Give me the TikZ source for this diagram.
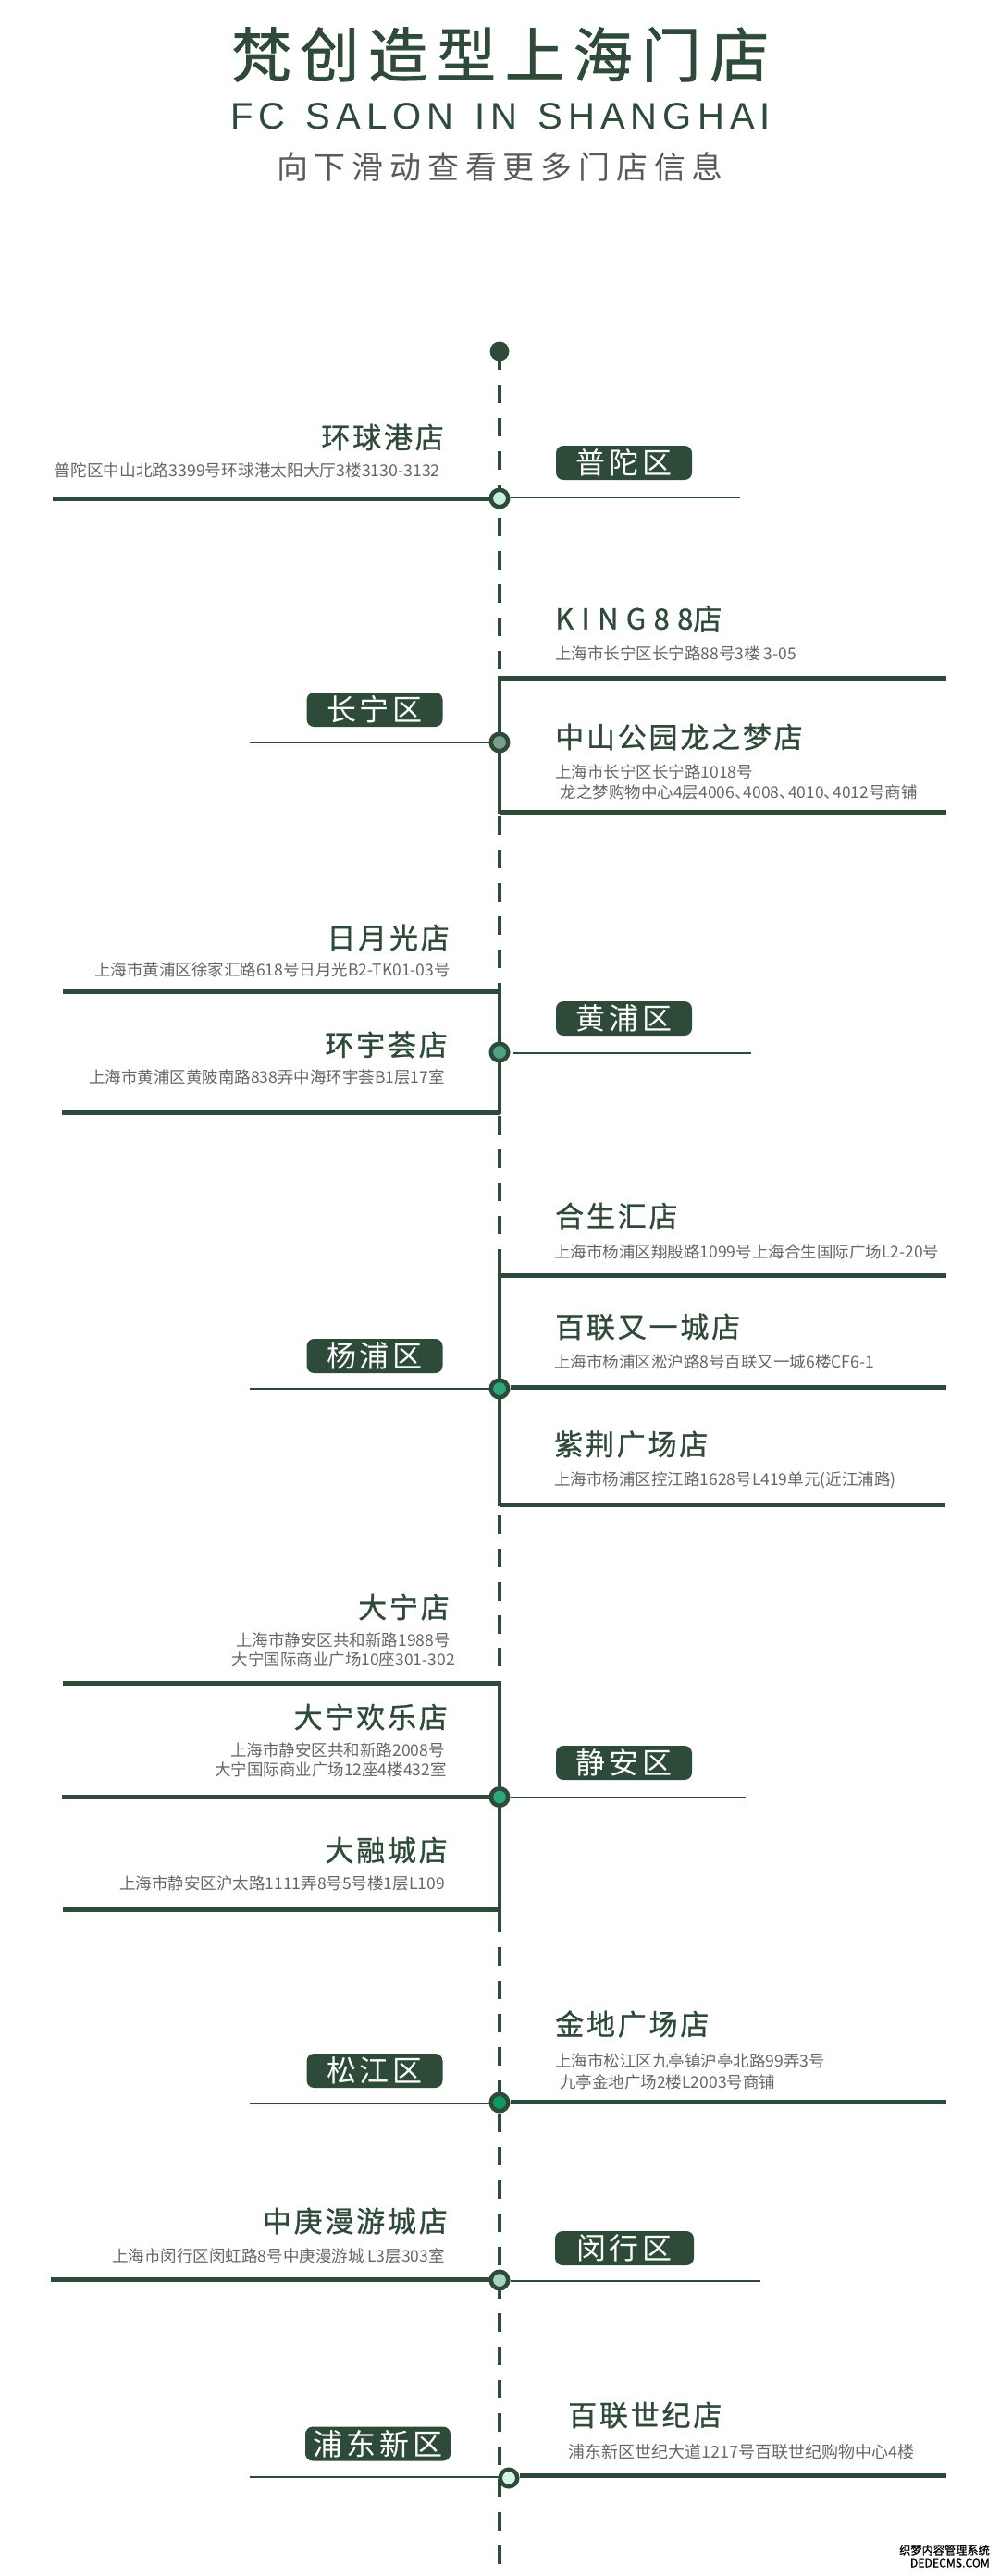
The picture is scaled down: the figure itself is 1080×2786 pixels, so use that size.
\documentclass[tikz,border=0pt]{standalone}
\usepackage{fontspec}
\usepackage{xcolor}
\newfontfamily\titlecjk[LetterSpace=15.4,FakeBold=1.2]{Noto Sans CJK SC}
\newfontfamily\titlelatin[LetterSpace=15.2,WordSpace=1.3]{Liberation Sans}
\newfontfamily\subtitlecjk[LetterSpace=20]{Noto Sans CJK SC}
\newfontfamily\shopcjk[LetterSpace=9,FakeBold=0.9]{Noto Sans CJK SC}
\newfontfamily\shopwide[LetterSpace=27,FakeBold=0.9]{Noto Sans CJK SC}
\newfontfamily\tagcjk[LetterSpace=12]{Noto Sans CJK SC}
\newfontfamily\addrcjk{Noto Sans CJK SC}
\newfontfamily\markcjk[FakeBold=1]{Noto Sans CJK SC}
\definecolor{salongreen}{HTML}{2E4A39}
\definecolor{addrgrey}{HTML}{666666}
\definecolor{subgrey}{HTML}{5A5A5A}
\newcommand{\shortcomma}{、\kern-8pt}
\tikzset{
    main-title/.style = {inner sep=0pt, text=salongreen, font=\titlecjk\fontsize{64}{64}\selectfont},
    latin-title/.style = {inner sep=0pt, text=salongreen, font=\titlelatin\fontsize{40}{40}\selectfont},
    sub-title/.style = {inner sep=0pt, text=subgrey, font=\subtitlecjk\fontsize{34}{34}\selectfont},
    shop-name/.style = {inner sep=0pt, text=salongreen, font=\shopcjk\fontsize{31}{31}\selectfont},
    shop-addr/.style = {inner sep=0pt, text=addrgrey, font=\addrcjk\fontsize{17.5}{17.5}\selectfont},
    shop-addr-mid/.style = {inner sep=0pt, text=addrgrey, font=\addrcjk\fontsize{17.7}{17.7}\selectfont},
    shop-addr-wide/.style = {inner sep=0pt, text=addrgrey, font=\addrcjk\fontsize{18}{18}\selectfont},
    area-tag/.style = {fill=salongreen, text=white, rectangle, rounded corners=8pt, inner sep=0pt, minimum width=147pt, minimum height=37pt, font=\tagcjk\fontsize{32}{32}\selectfont},
    area-dot/.style = {draw=salongreen, circle, line width=4.5pt, inner sep=0pt, minimum size=18.5pt},
    top-dot/.style = {fill=salongreen, circle, inner sep=0pt, minimum size=21pt},
    spine-dash/.style = {draw=salongreen, line width=4pt, dash pattern=on 20pt off 15.96pt},
    spine-solid/.style = {draw=salongreen, line width=4.6pt},
    thick-rule/.style = {draw=salongreen, line width=5pt},
    thin-rule/.style = {draw=salongreen, line width=2.5pt},
    mark-text/.style = {inner sep=0pt, text=black, font=\markcjk\fontsize{12.2}{12.2}\selectfont},
}
\begin{document}
\begin{tikzpicture}[x=1pt, y=-1pt]
\useasboundingbox (0,0) rectangle (1080,2786);

\node[main-title] (title) at (541,59) {梵创造型上海门店};
\node[latin-title] (title-en) at (541,126) {FC SALON IN SHANGHAI};
\node[sub-title] (title-sub) at (540.5,180) {向下滑动查看更多门店信息};

\node[top-dot] (spine-top) at (540,380) {};
\coordinate (spine-end) at (540,2773);
\draw[spine-dash] (spine-top.center) -- (spine-end);

\coordinate (changning-a) at (540,731);
\coordinate (changning-b) at (540,880);
\coordinate (huangpu-a) at (540,1063);
\coordinate (huangpu-b) at (540,1205);
\coordinate (yangpu-a) at (540,1351);
\coordinate (yangpu-b) at (540,1629);
\coordinate (jingan-a) at (540,1818);
\coordinate (jingan-b) at (540,2090);
\draw[spine-solid] (changning-a) -- (changning-b);
\draw[spine-solid] (huangpu-a) -- (huangpu-b);
\draw[spine-solid] (yangpu-a) -- (yangpu-b);
\draw[spine-solid] (jingan-a) -- (jingan-b);

\node[area-dot, fill={rgb,255:red,197;green,240;blue,224}] (putuo-dot) at (540,539) {};
\node[area-tag] (putuo-tag) at (674.5,500.5) {普陀区};
\node[shop-name, anchor=east] (huanqiu-name) at (480,473) {环球港店};
\node[shop-addr-mid, anchor=east] (huanqiu-addr) at (476,509) {普陀区中山北路3399号环球港太阳大厅3楼3130-3132};
\coordinate (huanqiu-end) at (57,539);
\coordinate (putuo-end) at (800,538);
\draw[thick-rule] (huanqiu-end) -- (huanqiu-end -| putuo-dot.west);
\draw[thin-rule] (putuo-dot.east |- putuo-end) -- (putuo-end);

\node[area-dot, fill={rgb,255:red,122;green,158;blue,140}] (changning-dot) at (540,803) {};
\node[area-tag] (changning-tag) at (405,767.5) {长宁区};
\node[shop-name, anchor=west] (king-name) at (600,669) {{\shopwide KING88}店};
\node[shop-addr, anchor=west] (king-addr) at (600,707) {上海市长宁区长宁路88号3楼 3-05};
\node[shop-name, anchor=west] (longzhimeng-name) at (600,797) {中山公园龙之梦店};
\node[shop-addr, anchor=west] (longzhimeng-addr) at (600,835) {上海市长宁区长宁路1018号};
\node[shop-addr, anchor=west] (longzhimeng-more) at (605.5,857) {龙之梦购物中心4层4006\shortcomma 4008\shortcomma 4010\shortcomma 4012号商铺};
\coordinate (changning-end) at (270,803);
\coordinate (king-end) at (1023,733);
\coordinate (longzhimeng-end) at (1023,878);
\draw[thin-rule] (changning-end) -- (changning-dot.west);
\draw[thick-rule] (changning-a |- king-end) -- (king-end);
\draw[thick-rule] (changning-a |- longzhimeng-end) -- (longzhimeng-end);

\node[area-dot, fill={rgb,255:red,79;green,163;blue,128}] (huangpu-dot) at (540,1138) {};
\node[area-tag] (huangpu-tag) at (674.5,1101.5) {黄浦区};
\node[shop-name, anchor=east] (riyueguang-name) at (486,1014) {日月光店};
\node[shop-addr, anchor=east] (riyueguang-addr) at (487,1049) {上海市黄浦区徐家汇路618号日月光B2-TK01-03号};
\node[shop-name, anchor=east] (huanyu-name) at (484,1130) {环宇荟店};
\node[shop-addr, anchor=east] (huanyu-addr) at (481,1165) {上海市黄浦区黄陂南路838弄中海环宇荟B1层17室};
\coordinate (riyueguang-end) at (68,1072);
\coordinate (huanyu-end) at (67,1203);
\coordinate (huangpu-end) at (812,1139);
\coordinate (huangpu-start) at (555,1139);
\draw[thick-rule] (riyueguang-end) -- (riyueguang-end -| huangpu-a);
\draw[thick-rule] (huanyu-end) -- (huanyu-end -| huangpu-a);
\draw[thin-rule] (huangpu-start) -- (huangpu-end);

\node[area-dot, fill={rgb,255:red,47;green,167;blue,124}] (yangpu-dot) at (540,1502) {};
\node[area-tag] (yangpu-tag) at (405,1466.5) {杨浦区};
\node[shop-name, anchor=west] (hesheng-name) at (600,1315) {合生汇店};
\node[shop-addr, anchor=west] (hesheng-addr) at (599,1354) {上海市杨浦区翔殷路1099号上海合生国际广场L2-20号};
\node[shop-name, anchor=west] (bailian-name) at (600,1435) {百联又一城店};
\node[shop-addr, anchor=west] (bailian-addr) at (599,1473) {上海市杨浦区淞沪路8号百联又一城6楼CF6-1};
\node[shop-name, anchor=west] (zijing-name) at (599,1562) {紫荆广场店};
\node[shop-addr, anchor=west] (zijing-addr) at (599,1601) {上海市杨浦区控江路1628号L419单元(近江浦路)};
\coordinate (yangpu-end) at (270,1502);
\coordinate (hesheng-end) at (1023,1379);
\coordinate (bailian-end) at (1023,1500);
\coordinate (zijing-end) at (1022,1627);
\draw[thin-rule] (yangpu-end) -- (yangpu-dot.west);
\draw[thick-rule] (yangpu-a |- hesheng-end) -- (hesheng-end);
\draw[thick-rule] (yangpu-dot.east |- bailian-end) -- (bailian-end);
\draw[thick-rule] (yangpu-a |- zijing-end) -- (zijing-end);

\node[area-dot, fill={rgb,255:red,47;green,167;blue,124}] (jingan-dot) at (540,1943.5) {};
\node[area-tag] (jingan-tag) at (674.5,1906.5) {静安区};
\node[shop-name, anchor=east] (daning-name) at (486,1738) {大宁店};
\node[shop-addr, anchor=east] (daning-addr) at (487,1774) {上海市静安区共和新路1988号};
\node[shop-addr, anchor=east] (daning-more) at (492,1795) {大宁国际商业广场10座301-302};
\node[shop-name, anchor=east] (huanle-name) at (484,1857) {大宁欢乐店};
\node[shop-addr, anchor=east] (huanle-addr) at (481,1893) {上海市静安区共和新路2008号};
\node[shop-addr, anchor=east] (huanle-more) at (483,1914) {大宁国际商业广场12座4楼432室};
\node[shop-name, anchor=east] (darong-name) at (484,2001) {大融城店};
\node[shop-addr, anchor=east] (darong-addr) at (481,2037) {上海市静安区沪太路1111弄8号5号楼1层L109};
\coordinate (daning-end) at (68,1820);
\coordinate (huanle-end) at (67,1943);
\coordinate (darong-end) at (68,2065);
\coordinate (jingan-end) at (805.5,1944);
\draw[thick-rule] (daning-end) -- (daning-end -| jingan-a);
\draw[thick-rule] (huanle-end) -- (huanle-end -| jingan-dot.west);
\draw[thick-rule] (darong-end) -- (darong-end -| jingan-a);
\draw[thin-rule] (jingan-dot.east |- jingan-end) -- (jingan-end);

\node[area-dot, fill={rgb,255:red,14;green,154;blue,99}] (songjiang-dot) at (540,2274) {};
\node[area-tag] (songjiang-tag) at (405,2239.5) {松江区};
\node[shop-name, anchor=west] (jindi-name) at (600,2189) {金地广场店};
\node[shop-addr, anchor=west] (jindi-addr) at (600,2229) {上海市松江区九亭镇沪亭北路99弄3号};
\node[shop-addr, anchor=west] (jindi-more) at (605,2252) {九亭金地广场2楼L2003号商铺};
\coordinate (songjiang-end) at (270,2275);
\coordinate (jindi-end) at (1023,2273);
\draw[thin-rule] (songjiang-end) -- (songjiang-end -| songjiang-dot.west);
\draw[thick-rule] (songjiang-dot.east |- jindi-end) -- (jindi-end);

\node[area-dot, fill={rgb,255:red,169;green,207;blue,191}] (minhang-dot) at (540,2466) {};
\node[area-tag, minimum width=150pt] (minhang-tag) at (675,2431.5) {闵行区};
\node[shop-name, anchor=east] (zhonggeng-name) at (484,2402) {中庚漫游城店};
\node[shop-addr, anchor=east] (zhonggeng-addr) at (481,2440) {上海市闵行区闵虹路8号中庚漫游城 L3层303室};
\coordinate (zhonggeng-end) at (55,2465);
\coordinate (minhang-end) at (822,2467);
\draw[thick-rule] (zhonggeng-end) -- (zhonggeng-end -| minhang-dot.west);
\draw[thin-rule] (minhang-dot.east |- minhang-end) -- (minhang-end);

\node[area-dot, fill={rgb,255:red,213;green,245;blue,232}] (pudong-dot) at (550,2680) {};
\node[area-tag, minimum width=157pt] (pudong-tag) at (408.5,2643) {浦东新区};
\node[shop-name, anchor=west] (shiji-name) at (614,2612) {百联世纪店};
\node[shop-addr-wide, anchor=west] (shiji-addr) at (614,2652) {浦东新区世纪大道1217号百联世纪购物中心4楼};
\coordinate (pudong-end) at (270,2679);
\coordinate (shiji-end) at (1023,2677);
\draw[thin-rule] (pudong-end) -- (pudong-end -| pudong-dot.west);
\draw[thick-rule] (pudong-dot.east |- shiji-end) -- (shiji-end);

\node[mark-text, anchor=east] (mark-cn) at (1070,2758) {织梦内容管理系统};
\node[mark-text, anchor=east] (mark-en) at (1070,2772) {DEDECMS.COM};
\end{tikzpicture}
\end{document}
